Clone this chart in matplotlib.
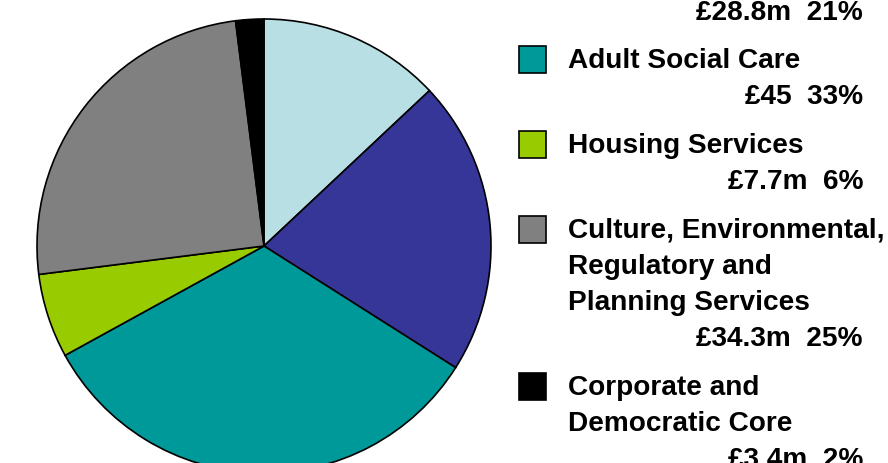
import matplotlib.pyplot as plt
from matplotlib.patches import Rectangle

# slice shares (%), clockwise from 12 o'clock; first slice's label is cut off
shares = [13, 21, 33, 6, 25, 2]
colors = ['#B8DFE3', '#363699', '#009999', '#99CC00', '#808080', '#000000']
amounts = [None, '£28.8m', '£45', '£7.7m', '£34.3m', '£3.4m']
names = [None, None,
         'Adult Social Care',
         'Housing Services',
         'Culture, Environmental,\nRegulatory and\nPlanning Services',
         'Corporate and\nDemocratic Core']

W, H = 888, 464
fig = plt.figure(figsize=(W / 100, H / 100), dpi=100)
ax = fig.add_axes([0, 0, 1, 1])

ax.pie(shares, colors=colors, center=(264, H - 247), radius=227,
       startangle=90, counterclock=False,
       wedgeprops=dict(edgecolor='black', linewidth=1.2))
ax.set_xlim(0, W)
ax.set_ylim(0, H)
ax.set_aspect('equal')
ax.axis('off')

font = dict(family=['Liberation Sans', 'DejaVu Sans'], weight='bold', size=20.2)
line_h = 36
gap = 49
val_x = 863

# value line of the entry whose name is above the top edge
ax.text(val_x, H - 13, f'{amounts[1]}  {shares[1]}%', ha='right', va='center', **font)

y = 61
for name, amt, pct, col in zip(names[2:], amounts[2:], shares[2:], colors[2:]):
    ax.add_patch(Rectangle((519, H - y - 13), 27, 27, facecolor=col,
                           edgecolor='black', linewidth=1.2))
    lines = name.split('\n')
    for i, ln in enumerate(lines):
        ax.text(568, H - (y + i * line_h), ln, ha='left', va='center', **font)
    y += len(lines) * line_h
    ax.text(val_x, H - y, f'{amt}  {pct}%', ha='right', va='center', **font)
    y += gap

fig.savefig('out.png', dpi=100)
